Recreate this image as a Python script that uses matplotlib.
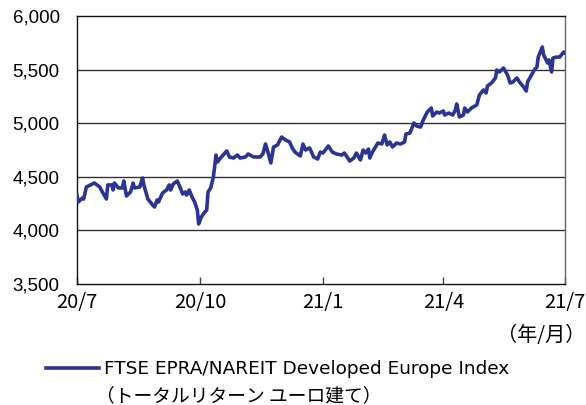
import datetime as dt
import matplotlib
matplotlib.use("Agg")
import matplotlib.pyplot as plt
from matplotlib.ticker import FuncFormatter

# ---- data ----
start_date = dt.date(2020, 7, 1)
day_offsets = [0, 1, 4, 5, 7, 10, 13, 17, 19, 22, 23, 26, 27, 28, 31, 34, 35, 37, 40, 42,
               43, 47, 49, 50, 53, 56, 58, 60, 61, 64, 67, 69, 70, 72, 75, 77, 79, 81, 82, 84,
               86, 88, 90, 91, 93, 95, 97, 98, 100, 102, 104, 105, 108, 112, 114, 117, 120, 122, 126, 128,
               132, 137, 139, 141, 143, 145, 147, 150, 153, 156, 159, 161, 163, 167, 169, 171, 174, 177, 180, 182,
               184, 188, 191, 194, 198, 200, 204, 207, 209, 212, 214, 216, 218, 219, 221, 225, 228, 230, 232, 234,
               236, 239, 242, 245, 246, 249, 252, 254, 257, 259, 262, 265, 266, 269, 271, 274, 275, 278, 281, 283,
               284, 286, 289, 290, 292, 295, 299, 301, 304, 306, 307, 310, 313, 314, 316, 319, 322, 324, 326, 329,
               331, 334, 336, 337, 340, 342, 344, 345, 348, 349, 352, 353, 355, 356, 359, 361, 364, 365]
index_values = [4330, 4265, 4302, 4293, 4405, 4424, 4442, 4405, 4358, 4293, 4424, 4424, 4377, 4442, 4396, 4396, 4461, 4321, 4358, 4442,
                4396, 4405, 4489, 4424, 4293, 4246, 4218, 4284, 4265, 4349, 4377, 4424, 4377, 4433, 4461, 4405, 4340, 4358, 4330, 4377,
                4312, 4265, 4190, 4060, 4125, 4162, 4190, 4358, 4396, 4498, 4703, 4638, 4685, 4741, 4685, 4675, 4703, 4675, 4685, 4713,
                4685, 4685, 4713, 4806, 4722, 4629, 4778, 4797, 4871, 4843, 4825, 4769, 4731, 4694, 4806, 4750, 4769, 4685, 4666, 4731,
                4722, 4787, 4731, 4713, 4703, 4722, 4647, 4675, 4722, 4657, 4750, 4722, 4759, 4675, 4731, 4815, 4806, 4890, 4797, 4825,
                4778, 4815, 4806, 4825, 4899, 4908, 5002, 4974, 4964, 5030, 5104, 5142, 5067, 5104, 5095, 5114, 5076, 5095, 5076, 5123,
                5179, 5058, 5076, 5142, 5104, 5142, 5170, 5263, 5310, 5282, 5347, 5375, 5422, 5496, 5478, 5515, 5450, 5375, 5384, 5422,
                5384, 5338, 5300, 5384, 5450, 5496, 5524, 5617, 5711, 5636, 5562, 5590, 5478, 5608, 5617, 5617, 5664, 5655]
x_tick_dates = ["2020-07-01", "2020-10-01", "2021-01-01", "2021-04-01", "2021-07-01"]
x_tick_labels = ["20/7", "20/10", "21/1", "21/4", "21/7"]
y_ticks = [3500, 4000, 4500, 5000, 5500, 6000]
series_label = "FTSE EPRA/NAREIT Developed Europe Index"
series_sub = "（トータルリターン ユーロ建て）"
unit_label = "（年/月）"

dates = [start_date + dt.timedelta(days=d) for d in day_offsets]
tick_dates = [dt.date.fromisoformat(s) for s in x_tick_dates]

line_color = "#2a3492"
jp_font = ["Noto Sans CJK JP", "DejaVu Sans"]

fig = plt.figure(figsize=(5.86, 4.05), dpi=100)
ax = fig.add_axes([77/586, 1-284/405, (565-77)/586, (284-16)/405])

ax.plot(dates, index_values, color=line_color, lw=2.6, solid_joinstyle="round",
        label=series_label, zorder=3)

ax.set_xlim(tick_dates[0], tick_dates[-1])
ax.set_ylim(y_ticks[0], y_ticks[-1])
ax.set_yticks(y_ticks)
ax.yaxis.set_major_formatter(FuncFormatter(lambda v, p: f"{int(v):,}"))
ax.set_xticks(tick_dates)
ax.set_xticklabels(x_tick_labels, fontfamily=jp_font, fontsize=14.5)
for lbl in ax.get_yticklabels():
    lbl.set_fontfamily("Liberation Sans")
    lbl.set_fontsize(13.5)

ax.tick_params(axis="y", length=0, pad=12.5)
ax.tick_params(axis="x", direction="in", length=5, width=1, color="#444444", pad=6)

for v in y_ticks[1:-1]:
    ax.axhline(v, color="#333333", lw=1.0, zorder=1)

for s in ["left", "bottom", "top"]:
    ax.spines[s].set_color("#111111")
    ax.spines[s].set_linewidth(1.0)
ax.spines["right"].set_color("#666666")
ax.spines["right"].set_linewidth(1.0)

fig.text(585/586, 1-335/405, unit_label, ha="right", va="center",
         fontfamily=jp_font, fontsize=14.5)

leg = fig.legend(loc="center left", bbox_to_anchor=(46/586, 1-369/405), frameon=False,
                 handlelength=2.85, handletextpad=0.3, borderpad=0, borderaxespad=0,
                 prop={"family": "DejaVu Sans", "size": 13.3})
fig.text(96/586, 1-396/405, series_sub, ha="left", va="center",
         fontfamily=jp_font, fontsize=13.5)

fig.savefig("out.png", dpi=100)
